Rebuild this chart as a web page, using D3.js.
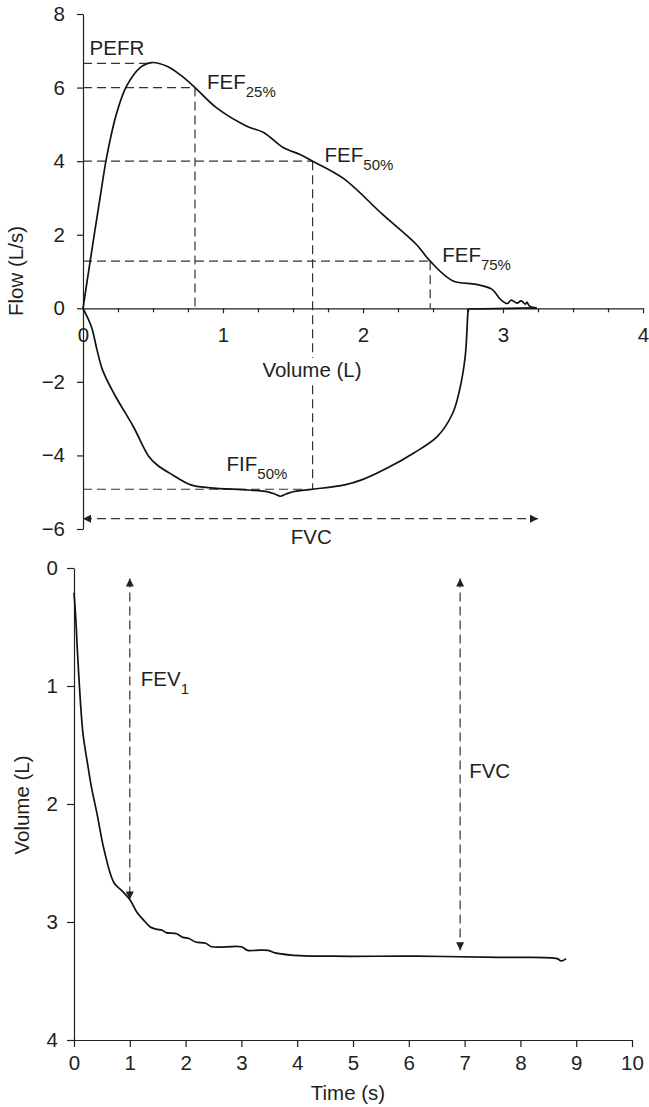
<!DOCTYPE html>
<html>
<head>
<meta charset="utf-8">
<script src="https://cdn.jsdelivr.net/npm/d3@7"></script>
<style>
  body { margin: 0; background: #fff; }
  svg text { font-family: "Liberation Sans", Arial, Helvetica, sans-serif; fill: #231f20; }
</style>
</head>
<body>
<svg id="chart" width="649" height="1107"></svg>
<script>
// flow-volume loop, expiratory limb (volume L, flow L/s)
const expVolume = [0, 0.05, 0.12, 0.17, 0.24, 0.31, 0.41, 0.49, 0.6, 0.7, 0.8, 0.95, 1.17, 1.29, 1.43, 1.55, 1.64, 1.86, 2.14, 2.38, 2.48, 2.64, 2.81, 2.92, 2.98, 3.03, 3.06, 3.1, 3.13, 3.16, 3.17, 3.19, 3.24];
const expFlow = [0, 1.25, 2.96, 4.13, 5.3, 6.03, 6.55, 6.68, 6.58, 6.33, 6.0, 5.46, 4.95, 4.78, 4.37, 4.18, 4.0, 3.53, 2.55, 1.74, 1.28, 0.75, 0.65, 0.52, 0.25, 0.13, 0.22, 0.14, 0.2, 0.11, 0.17, 0.06, 0.01];

// inspiratory limb (starts with the flat return along the axis)
const inspVolume = [3.24, 2.75, 2.745, 2.73, 2.69, 2.64, 2.53, 2.36, 2.17, 2.0, 1.87, 1.64, 1.51, 1.45, 1.41, 1.37, 1.32, 1.18, 0.91, 0.77, 0.64, 0.53, 0.47, 0.36, 0.22, 0.14, 0.1, 0.06, 0];
const inspFlow = [0.01, -0.02, -0.41, -1.31, -2.22, -2.86, -3.49, -3.94, -4.35, -4.65, -4.8, -4.92, -4.98, -5.05, -5.11, -5.05, -4.99, -4.94, -4.88, -4.8, -4.53, -4.26, -4.03, -3.22, -2.31, -1.68, -1.13, -0.5, 0];

// volume-time curve
const timeSec = [0, 0.03, 0.07, 0.16, 0.24, 0.31, 0.42, 0.54, 0.72, 0.87, 1.0, 1.13, 1.24, 1.36, 1.47, 1.58, 1.65, 1.84, 1.95, 2.06, 2.18, 2.36, 2.47, 3.0, 3.11, 3.26, 3.48, 3.59, 3.89, 4.63, 6.12, 7.61, 8.66, 8.73, 8.82];
const volumeL = [0.21, 0.41, 0.78, 1.4, 1.65, 1.85, 2.1, 2.39, 2.67, 2.74, 2.81, 2.92, 2.98, 3.04, 3.06, 3.07, 3.09, 3.1, 3.13, 3.14, 3.17, 3.18, 3.21, 3.21, 3.24, 3.24, 3.24, 3.26, 3.28, 3.29, 3.29, 3.3, 3.31, 3.33, 3.31];

const flowTicks = [-6, -4, -2, 0, 2, 4, 6, 8];
const volTicksTop = [0, 0.25, 0.5, 0.75, 1, 1.25, 1.5, 1.75, 2, 2.25, 2.5, 2.75, 3, 3.25, 3.5, 3.75, 4];
const timeTicks = [0, 1, 2, 3, 4, 5, 6, 7, 8, 9, 10];
const volTicksBottom = [0, 1, 2, 3, 4];

// reference points
const pefr = { vol: 0.49, flow: 6.66 };
const fefPoints = [
  { sub: "25%", vol: 0.8, flow: 6.0 },
  { sub: "50%", vol: 1.64, flow: 4.0 },
  { sub: "75%", vol: 2.48, flow: 1.28 }
];
const fif50 = { vol: 1.64, flow: -4.92 };
const fvcLoop = { from: 0, to: 3.25, flow: -5.72 };
const fev1 = { time: 1, top: 0.09, bottom: 2.81 };
const fvcTime = { time: 6.92, top: 0.09, bottom: 3.24 };

const svg = d3.select("#chart");
const ink = "#231f20";
const fontSize = 20.5;
const subSize = 15;

svg.append("defs").append("marker")
  .attr("id", "arrow")
  .attr("viewBox", "0 0 10 10")
  .attr("refX", 10).attr("refY", 5)
  .attr("markerUnits", "userSpaceOnUse")
  .attr("markerWidth", 9).attr("markerHeight", 8)
  .attr("orient", "auto-start-reverse")
  .append("path").attr("d", "M0,0L10,5L0,10z").attr("fill", ink);

function styleAxis(g) {
  g.selectAll("path, line").attr("stroke", ink).attr("stroke-width", 1.2);
  g.selectAll("text").attr("font-size", fontSize).attr("fill", ink)
    .attr("font-family", '"Liberation Sans", Arial, sans-serif');
}

function dashed(g, xa, ya, xb, yb) {
  return g.append("line")
    .attr("x1", xa).attr("y1", ya).attr("x2", xb).attr("y2", yb)
    .attr("stroke", "#333").attr("stroke-width", 1.2)
    .attr("stroke-dasharray", "9,5");
}

function subLabel(g, x, y, main, sub) {
  const t = g.append("text").attr("x", x).attr("y", y).attr("font-size", fontSize);
  t.append("tspan").text(main);
  if (sub) t.append("tspan").attr("dy", 8).attr("font-size", subSize).text(sub);
  return t;
}

// ---------- top: flow-volume loop ----------
const x1 = d3.scaleLinear().domain([0, 4]).range([83, 643]);
const y1 = d3.scaleLinear().domain([-6, 8]).range([529, 14]);
const loopG = svg.append("g");

// dashed guides
const guides = loopG.append("g");
dashed(guides, x1(0), y1(pefr.flow), x1(pefr.vol), y1(pefr.flow));
fefPoints.forEach(p => {
  dashed(guides, x1(0), y1(p.flow), x1(p.vol), y1(p.flow));
});
dashed(guides, x1(fefPoints[0].vol), y1(fefPoints[0].flow), x1(fefPoints[0].vol), y1(0));
dashed(guides, x1(fefPoints[1].vol), y1(fefPoints[1].flow), x1(fif50.vol), y1(fif50.flow));
dashed(guides, x1(fefPoints[2].vol), y1(fefPoints[2].flow), x1(fefPoints[2].vol), y1(0));
dashed(guides, x1(0), y1(fif50.flow), x1(fif50.vol), y1(fif50.flow));
dashed(guides, x1(fvcLoop.from), y1(fvcLoop.flow), x1(fvcLoop.to), y1(fvcLoop.flow))
  .attr("marker-start", "url(#arrow)").attr("marker-end", "url(#arrow)");

// axes
const yAxisTop = d3.axisLeft(y1).tickValues(flowTicks).tickSize(6).tickSizeOuter(0).tickPadding(12);
loopG.append("g").attr("transform", `translate(${x1(0)},0)`).call(yAxisTop).call(styleAxis);

const xAxisTop = d3.axisBottom(x1).tickValues(volTicksTop).tickSize(4).tickSizeOuter(0).tickPadding(15)
  .tickFormat(d => Number.isInteger(d) ? d : "");
const xTopG = loopG.append("g").attr("transform", `translate(0,${y1(0)})`).call(xAxisTop).call(styleAxis);
xTopG.selectAll(".tick line").attr("y2", d => Number.isInteger(d) ? 5 : 4);

// x title with white backing (it sits over the FEF50 guide)
const volTitle = loopG.append("text").attr("x", 312).attr("y", 377)
  .attr("text-anchor", "middle").attr("font-size", fontSize).text("Volume (L)");
const vb = volTitle.node().getBBox();
loopG.insert("rect", () => volTitle.node()).attr("x", vb.x - 2).attr("y", vb.y).attr("width", vb.width + 4)
  .attr("height", vb.height).attr("fill", "#fff");

loopG.append("text").attr("transform", "translate(23,271) rotate(-90)")
  .attr("text-anchor", "middle").attr("font-size", fontSize).text("Flow (L/s)");

// loop curves
const loopLine = d3.line()
  .x(d => x1(d[0])).y(d => y1(d[1]))
  .curve(d3.curveCatmullRom.alpha(0.5));
const straight = d3.line().x(d => x1(d[0])).y(d => y1(d[1]));
const inspPts = d3.zip(inspVolume, inspFlow);
loopG.append("path").datum(d3.zip(expVolume, expFlow))
  .attr("d", loopLine).attr("fill", "none").attr("stroke", "#111").attr("stroke-width", 1.7);
loopG.append("path").datum(inspPts.slice(0, 2))
  .attr("d", straight).attr("fill", "none").attr("stroke", "#111").attr("stroke-width", 1.7);
loopG.append("path").datum(inspPts.slice(1))
  .attr("d", loopLine).attr("fill", "none").attr("stroke", "#111").attr("stroke-width", 1.7);

// labels
loopG.append("text").attr("x", x1(pefr.vol) - 62).attr("y", y1(pefr.flow) - 8)
  .attr("font-size", fontSize).text("PEFR");
fefPoints.forEach(p => subLabel(loopG, x1(p.vol) + 12, y1(p.flow) + 1, "FEF", p.sub));
subLabel(loopG, x1(fif50.vol) - 86, y1(fif50.flow) - 18, "FIF", "50%");
loopG.append("text").attr("x", x1(1.63)).attr("y", y1(-6.42))
  .attr("text-anchor", "middle").attr("font-size", fontSize).text("FVC");

// ---------- bottom: volume-time ----------
const x2 = d3.scaleLinear().domain([0, 10]).range([74, 632]);
const y2 = d3.scaleLinear().domain([0, 4]).range([568, 1040]);
const timeG = svg.append("g");

dashed(timeG, x2(fev1.time), y2(fev1.top), x2(fev1.time), y2(fev1.bottom))
  .attr("marker-start", "url(#arrow)").attr("marker-end", "url(#arrow)");
dashed(timeG, x2(fvcTime.time), y2(fvcTime.top), x2(fvcTime.time), y2(fvcTime.bottom))
  .attr("marker-start", "url(#arrow)").attr("marker-end", "url(#arrow)");

const yAxisBot = d3.axisLeft(y2).tickValues(volTicksBottom).tickFormat(d3.format("d"))
  .tickSize(7).tickSizeOuter(0).tickPadding(9);
timeG.append("g").attr("transform", `translate(${x2(0)},0)`).call(yAxisBot).call(styleAxis);
const xAxisBot = d3.axisBottom(x2).tickValues(timeTicks).tickSize(7).tickSizeOuter(0).tickPadding(8);
timeG.append("g").attr("transform", `translate(0,${y2(4)})`).call(xAxisBot).call(styleAxis);

timeG.append("text").attr("x", 348).attr("y", 1100)
  .attr("text-anchor", "middle").attr("font-size", fontSize).text("Time (s)");
timeG.append("text").attr("transform", "translate(29,805) rotate(-90)")
  .attr("text-anchor", "middle").attr("font-size", fontSize).text("Volume (L)");

const vtLine = d3.line()
  .x(d => x2(d[0])).y(d => y2(d[1]))
  .curve(d3.curveCatmullRom.alpha(0.5));
timeG.append("path").datum(d3.zip(timeSec, volumeL))
  .attr("d", vtLine).attr("fill", "none").attr("stroke", "#111").attr("stroke-width", 1.7);

subLabel(timeG, x2(fev1.time) + 11, y2(1.0), "FEV", "1");
timeG.append("text").attr("x", x2(fvcTime.time) + 9).attr("y", y2(1.78))
  .attr("font-size", fontSize).text("FVC");
</script>
</body>
</html>
